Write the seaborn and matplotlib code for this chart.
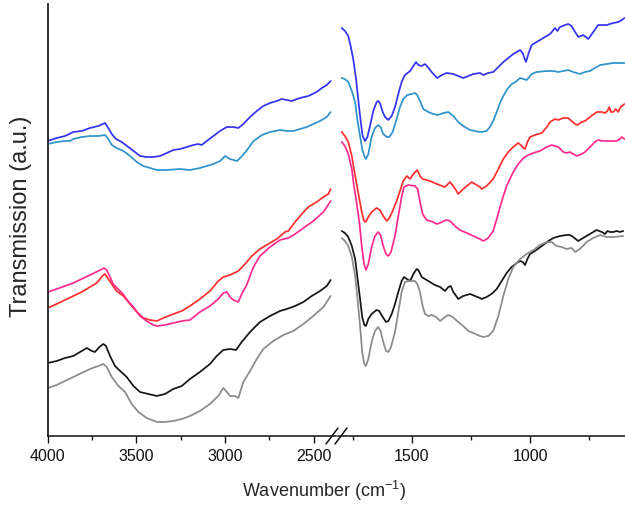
import matplotlib
matplotlib.use("Agg")
import matplotlib.pyplot as plt
from matplotlib.lines import Line2D
from matplotlib.ticker import FixedLocator
import pandas as pd
import seaborn as sns

# ---------------- high-wavenumber region (4000-2400 cm-1) ----------------
wn_blue_hi = [4000, 3950, 3903, 3856, 3809, 3762, 3715, 3677, 3659, 3639, 3615, 3583, 3546, 3508,
              3480, 3442, 3405, 3367, 3329, 3292, 3254, 3216, 3179, 3151, 3132, 3103, 3066, 3028,
              2990, 2953, 2925, 2897, 2859, 2821, 2784, 2746, 2708, 2680, 2652, 2624, 2577, 2530,
              2483, 2454, 2426, 2404]
t_blue_hi = [295, 298, 300, 304, 305, 308, 310, 313, 308, 302, 297, 294, 289, 284,
             280, 279, 279, 280, 283, 286, 287, 289, 291, 292, 291, 295, 300, 305,
             309, 309, 308, 312, 319, 325, 330, 333, 335, 337, 336, 335, 338, 340,
             344, 348, 351, 355]

wn_lblue_hi = [4000, 3950, 3903, 3875, 3856, 3809, 3762, 3715, 3677, 3659, 3639, 3612, 3574, 3536,
               3498, 3461, 3423, 3385, 3329, 3254, 3198, 3142, 3103, 3066, 3028, 3000, 2972, 2932,
               2904, 2876, 2839, 2792, 2746, 2690, 2652, 2614, 2577, 2539, 2502, 2464, 2426, 2404]
t_lblue_hi = [292, 294, 295, 295, 297, 299, 300, 300, 301, 297, 291, 288, 285, 280,
              274, 270, 268, 266, 266, 267, 266, 268, 270, 272, 275, 280, 277, 275,
              280, 286, 295, 301, 304, 306, 305, 305, 307, 309, 312, 315, 319, 324]

wn_red_hi = [4000, 3950, 3903, 3856, 3809, 3762, 3724, 3687, 3677, 3659, 3639, 3612, 3574, 3536,
             3498, 3461, 3423, 3385, 3348, 3292, 3244, 3198, 3142, 3085, 3038, 3010, 2972, 2925,
             2887, 2849, 2803, 2756, 2708, 2662, 2643, 2605, 2567, 2530, 2483, 2445, 2417, 2404]
t_red_hi = [128, 132, 136, 140, 144, 149, 153, 161, 162, 157, 152, 145, 140, 132,
            124, 118, 116, 115, 118, 122, 125, 130, 137, 145, 155, 159, 161, 165,
            172, 180, 187, 192, 197, 204, 205, 214, 222, 229, 234, 239, 242, 247]

wn_pink_hi = [4000, 3950, 3903, 3856, 3809, 3762, 3715, 3683, 3668, 3649, 3632, 3604, 3576, 3548,
              3517, 3480, 3442, 3405, 3382, 3339, 3292, 3244, 3198, 3142, 3085, 3038, 3010, 2990,
              2972, 2953, 2925, 2906, 2878, 2840, 2803, 2746, 2690, 2643, 2605, 2558, 2502, 2445,
              2404]
t_pink_hi = [144, 147, 150, 153, 157, 161, 165, 168, 166, 159, 152, 147, 142, 135,
             129, 120, 115, 111, 110, 111, 113, 115, 116, 124, 130, 137, 143, 144,
             139, 136, 134, 142, 151, 169, 180, 189, 196, 198, 202, 208, 215, 224,
             235]

wn_black_hi = [4000, 3950, 3903, 3856, 3818, 3780, 3752, 3734, 3709, 3687, 3672, 3649, 3621, 3592,
               3555, 3517, 3480, 3433, 3385, 3339, 3292, 3244, 3198, 3142, 3085, 3047, 3010, 2972,
               2938, 2906, 2859, 2803, 2746, 2690, 2652, 2605, 2558, 2511, 2464, 2426, 2404]
t_black_hi = [73, 75, 78, 80, 84, 88, 85, 84, 89, 92, 90, 80, 70, 65,
              59, 50, 44, 42, 40, 42, 47, 50, 57, 64, 72, 80, 86, 87,
              86, 94, 104, 114, 120, 125, 127, 130, 134, 140, 145, 150, 156]

wn_gray_hi = [4000, 3950, 3903, 3856, 3809, 3762, 3715, 3687, 3668, 3639, 3602, 3564, 3527, 3489,
              3442, 3385, 3339, 3292, 3244, 3198, 3142, 3085, 3038, 3010, 2990, 2972, 2944, 2925,
              2897, 2859, 2821, 2784, 2728, 2671, 2615, 2558, 2502, 2445, 2404]
t_gray_hi = [48, 51, 55, 59, 63, 67, 70, 72, 69, 59, 50, 44, 32, 24,
             18, 14, 14, 15, 17, 20, 25, 32, 40, 48, 44, 40, 40, 38,
             54, 65, 77, 87, 95, 101, 105, 112, 120, 129, 140]

# ---------------- fingerprint region (1800-600 cm-1) ----------------
wn_blue_lo = [1798, 1784, 1770, 1760, 1749, 1737, 1728, 1717, 1709, 1699, 1689, 1678, 1664, 1650,
              1643, 1636, 1624, 1614, 1600, 1586, 1572, 1558, 1544, 1530, 1508, 1494, 1483, 1473,
              1459, 1445, 1433, 1417, 1393, 1374, 1353, 1325, 1304, 1283, 1261, 1240, 1212, 1198,
              1177, 1156, 1134, 1113, 1092, 1071, 1056, 1042, 1031, 1024, 1017, 1007, 993, 972,
              944, 915, 894, 884, 873, 852, 838, 824, 809, 795, 774, 753, 732, 711,
              675, 647, 626, 611, 600]
t_blue_lo = [408, 405, 400, 390, 377, 357, 337, 314, 300, 295, 299, 310, 325, 334,
             335, 333, 324, 319, 316, 320, 329, 342, 354, 361, 365, 370, 374, 371,
             370, 372, 369, 364, 358, 361, 363, 362, 360, 358, 360, 362, 363, 361,
             363, 364, 369, 374, 378, 382, 384, 386, 383, 378, 374, 382, 391, 394,
             398, 402, 408, 405, 409, 411, 412, 410, 404, 399, 401, 397, 404, 411,
             411, 413, 414, 416, 418]

wn_lblue_lo = [1798, 1784, 1770, 1755, 1741, 1732, 1720, 1711, 1702, 1695, 1685, 1671, 1657, 1643,
               1633, 1622, 1607, 1596, 1582, 1565, 1551, 1537, 1520, 1501, 1487, 1478, 1466, 1452,
               1431, 1410, 1389, 1367, 1346, 1325, 1304, 1283, 1254, 1233, 1212, 1205, 1184, 1170,
               1156, 1141, 1127, 1113, 1096, 1077, 1056, 1042, 1028, 1014, 1003, 993, 972, 929,
               901, 880, 859, 838, 817, 788, 767, 746, 725, 703, 675, 647, 619, 600]
t_lblue_lo = [358, 357, 354, 345, 334, 317, 300, 287, 280, 277, 282, 299, 308, 311,
              309, 302, 299, 299, 304, 317, 329, 337, 341, 342, 343, 341, 335, 327,
              324, 322, 321, 323, 324, 320, 314, 310, 306, 305, 304, 304, 305, 309,
              315, 324, 333, 340, 347, 352, 355, 358, 357, 356, 359, 362, 364, 365,
              365, 364, 365, 366, 364, 362, 364, 365, 368, 371, 372, 373, 373, 373]

wn_red_lo = [1798, 1784, 1770, 1755, 1746, 1733, 1723, 1713, 1703, 1696, 1685, 1671, 1650, 1636,
             1622, 1607, 1596, 1582, 1565, 1548, 1537, 1522, 1508, 1494, 1478, 1466, 1455, 1424,
             1395, 1360, 1339, 1322, 1304, 1283, 1247, 1212, 1205, 1184, 1156, 1134, 1113, 1092,
             1071, 1050, 1039, 1028, 1021, 1011, 1000, 979, 950, 929, 915, 894, 880, 859,
             838, 824, 809, 799, 781, 767, 746, 717, 696, 682, 672, 664, 657, 647,
             637, 626, 616, 600]
t_red_lo = [304, 300, 294, 280, 267, 250, 237, 224, 215, 214, 219, 224, 228, 226,
            220, 215, 218, 225, 235, 247, 255, 260, 257, 262, 266, 260, 257, 255,
            252, 249, 254, 249, 242, 247, 254, 249, 247, 250, 257, 267, 277, 284,
            289, 293, 291, 288, 287, 294, 299, 301, 303, 309, 314, 317, 316, 318,
            318, 315, 312, 311, 314, 315, 319, 324, 324, 323, 325, 329, 324, 324,
            327, 324, 329, 332]

wn_pink_lo = [1798, 1784, 1770, 1755, 1746, 1737, 1723, 1713, 1703, 1695, 1685, 1671, 1657, 1643,
              1633, 1622, 1610, 1600, 1589, 1572, 1558, 1544, 1534, 1516, 1487, 1476, 1466, 1455,
              1438, 1424, 1410, 1395, 1381, 1367, 1353, 1339, 1318, 1297, 1268, 1240, 1212, 1198,
              1177, 1156, 1141, 1127, 1113, 1099, 1085, 1071, 1050, 1028, 1007, 986, 958, 929,
              908, 894, 880, 859, 845, 831, 817, 802, 781, 767, 746, 725, 711, 690,
              661, 633, 619, 611, 600]
t_pink_lo = [294, 290, 282, 267, 250, 237, 214, 190, 172, 166, 172, 189, 200, 204,
             201, 190, 182, 180, 184, 200, 220, 239, 249, 251, 250, 247, 234, 222,
             216, 215, 214, 212, 213, 215, 216, 215, 210, 206, 203, 200, 197, 195,
             198, 205, 217, 229, 240, 250, 257, 264, 272, 278, 281, 283, 285, 289,
             291, 290, 289, 284, 283, 284, 282, 280, 282, 284, 289, 294, 296, 295,
             295, 295, 297, 299, 297]

wn_black_lo = [1798, 1784, 1770, 1755, 1741, 1732, 1720, 1711, 1702, 1695, 1685, 1671, 1650, 1639,
               1624, 1610, 1600, 1586, 1572, 1558, 1544, 1534, 1522, 1508, 1494, 1480, 1473, 1459,
               1445, 1424, 1403, 1381, 1360, 1346, 1336, 1325, 1304, 1283, 1254, 1233, 1212, 1205,
               1184, 1163, 1141, 1120, 1099, 1078, 1056, 1042, 1031, 1021, 1011, 1000, 979, 950,
               922, 901, 873, 845, 831, 817, 796, 775, 746, 718, 696, 682, 672, 661,
               647, 633, 619, 605]
t_black_lo = [205, 203, 199, 190, 177, 160, 137, 119, 111, 110, 117, 122, 126, 125,
              119, 114, 115, 122, 132, 144, 155, 159, 157, 155, 162, 167, 166, 159,
              157, 154, 151, 149, 145, 149, 150, 144, 137, 140, 142, 140, 138, 137,
              139, 142, 147, 155, 163, 169, 173, 175, 174, 171, 177, 182, 185, 190,
              195, 198, 200, 201, 201, 199, 195, 198, 202, 206, 204, 202, 205, 204,
              204, 205, 204, 205]

wn_gray_lo = [1798, 1784, 1770, 1755, 1741, 1732, 1720, 1711, 1702, 1695, 1685, 1671, 1657, 1643,
              1633, 1622, 1610, 1600, 1589, 1572, 1558, 1544, 1530, 1516, 1487, 1478, 1466, 1455,
              1445, 1431, 1417, 1398, 1381, 1360, 1346, 1328, 1304, 1283, 1261, 1240, 1212, 1198,
              1177, 1156, 1134, 1113, 1092, 1071, 1042, 1014, 1000, 979, 958, 929, 908, 887,
              866, 845, 824, 809, 788, 760, 732, 703, 675, 647, 605]
t_gray_lo = [198, 195, 190, 179, 160, 140, 110, 84, 72, 70, 77, 94, 105, 109,
             105, 94, 85, 84, 89, 104, 124, 144, 154, 155, 155, 152, 144, 130,
             122, 120, 121, 119, 115, 119, 121, 119, 114, 110, 105, 103, 100, 99,
             100, 105, 120, 140, 157, 169, 177, 182, 184, 187, 191, 194, 194, 190,
             189, 187, 188, 184, 187, 194, 198, 201, 199, 199, 200]

samples = ["blue", "lightblue", "red", "pink", "black", "gray"]
colors = {"blue": "#3232F2", "lightblue": "#2E92CC", "red": "#FF2E2E",
          "pink": "#FF2A8E", "black": "#141414", "gray": "#8A8A8A"}

hi = {"blue": (wn_blue_hi, t_blue_hi), "lightblue": (wn_lblue_hi, t_lblue_hi),
      "red": (wn_red_hi, t_red_hi), "pink": (wn_pink_hi, t_pink_hi),
      "black": (wn_black_hi, t_black_hi), "gray": (wn_gray_hi, t_gray_hi)}
lo = {"blue": (wn_blue_lo, t_blue_lo), "lightblue": (wn_lblue_lo, t_lblue_lo),
      "red": (wn_red_lo, t_red_lo), "pink": (wn_pink_lo, t_pink_lo),
      "black": (wn_black_lo, t_black_lo), "gray": (wn_gray_lo, t_gray_lo)}


def to_frame(region):
    rows = []
    for s in samples:
        w, t = region[s]
        rows.append(pd.DataFrame({"wavenumber": w, "transmission": t, "sample": s}))
    return pd.concat(rows, ignore_index=True)


df_hi = to_frame(hi)
df_lo = to_frame(lo)

sns.set_style("ticks")
plt.rcParams["font.family"] = ["Liberation Sans", "DejaVu Sans"]
plt.rcParams["mathtext.fontset"] = "custom"
plt.rcParams["mathtext.rm"] = "Liberation Sans"

fig = plt.figure(figsize=(6.25, 5.06), dpi=100)
ax1 = fig.add_axes([0.0765, 0.1354, 0.4611, 0.8547])
ax2 = fig.add_axes([0.5408, 0.1354, 0.4592, 0.8547])

for ax, df in ((ax1, df_hi), (ax2, df_lo)):
    sns.lineplot(data=df, x="wavenumber", y="transmission", hue="sample",
                 palette=colors, hue_order=samples, estimator=None, sort=False,
                 linewidth=1.25, legend=False, ax=ax)
    ax.set_ylim(-0.5, 432)
    ax.set_yticks([])
    ax.set_xlabel("")
    ax.set_ylabel("")
    ax.spines["top"].set_visible(False)
    ax.spines["right"].set_visible(False)
    ax.spines["bottom"].set_linewidth(1.1)
    ax.spines["bottom"].set_color("#111111")
    ax.tick_params(axis="x", which="major", direction="out", length=5, width=1.0,
                   labelsize=11.5, pad=3, colors="#111111")
    ax.tick_params(axis="x", which="minor", direction="out", length=3, width=1.0,
                   colors="#111111")
    ax.patch.set_alpha(0)

ax1.set_xlim(4000, 2374)
ax1.xaxis.set_major_locator(FixedLocator([4000, 3500, 3000, 2500]))
ax1.xaxis.set_minor_locator(FixedLocator([3750, 3250, 2750]))
ax1.spines["left"].set_linewidth(1.3)
ax1.spines["left"].set_color("#222222")
ax1.set_ylabel("Transmission (a.u.)", fontsize=17)
ax1.yaxis.set_label_coords(-0.055, 0.512)

ax2.set_xlim(1813.5, 597.5)
ax2.xaxis.set_major_locator(FixedLocator([1500, 1000]))
ax2.xaxis.set_minor_locator(FixedLocator([1750, 1250, 750]))
ax2.spines["left"].set_visible(False)

fig.text(0.5184, 0.006, r"Wavenumber (cm$^{-1}$)", ha="center", va="bottom", fontsize=13)

# axis-break marks
for x0 in (326, 335):
    fig.add_artist(Line2D([x0 / 625, (x0 + 12) / 625], [(506 - 445) / 506, (506 - 429) / 506],
                          color="#111111", linewidth=1.1, transform=fig.transFigure))

fig.savefig("out.png", dpi=100)
